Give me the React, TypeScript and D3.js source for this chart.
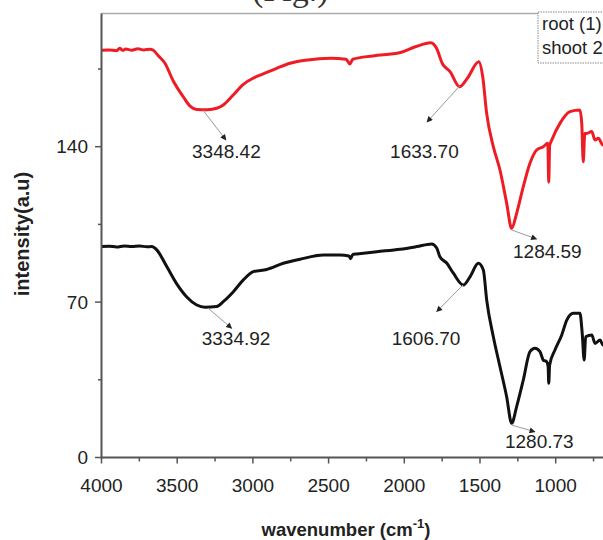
import React from 'react';
import * as d3 from 'd3';

// ---- data ----
const redWave = [4000, 3950, 3900, 3880, 3860, 3840, 3800, 3760, 3720, 3680, 3658, 3625, 3581, 3526, 3460, 3415, 3371, 3300, 3239, 3196, 3130, 3063, 2997, 2931, 2843, 2755, 2638, 2486, 2385, 2360, 2340, 2207, 2026, 1927, 1825, 1787, 1749, 1698, 1635, 1584, 1508, 1482, 1456, 1412, 1368, 1324, 1291, 1258, 1214, 1170, 1126, 1082, 1052, 1046, 1040, 1026, 972, 906, 840, 828, 818, 808, 795, 762, 740, 719, 688, 650, 600];
const redValue = [183.5, 183.6, 183.2, 184.3, 183.4, 184.0, 183.5, 184.1, 183.6, 183.9, 183.4, 181, 177.6, 169.6, 162.5, 158.3, 156.8, 156.7, 157.3, 158.8, 163.3, 168.1, 170.9, 172.8, 175.3, 177.6, 179.1, 179.8, 179.4, 177.3, 179.4, 180.9, 182.4, 185, 186.8, 184.3, 177.5, 173.8, 167, 170.8, 178.3, 171.5, 155, 140, 129.5, 114.6, 103.2, 110, 122, 132.5, 138.5, 140, 141.5, 124, 140.5, 143, 150.5, 155.8, 156.5, 150.5, 133.2, 146, 146, 146.8, 143, 143.8, 140.8, 141, 140];

const blackWave = [4000, 3950, 3900, 3850, 3800, 3750, 3700, 3668, 3635, 3569, 3503, 3437, 3371, 3316, 3239, 3196, 3129, 3063, 2997, 2909, 2799, 2689, 2535, 2425, 2365, 2355, 2340, 2314, 2182, 2028, 1918, 1819, 1786, 1764, 1720, 1676, 1610, 1566, 1511, 1478, 1456, 1412, 1368, 1324, 1291, 1258, 1214, 1170, 1137, 1104, 1082, 1060, 1050, 1046, 1040, 1005, 960, 927, 884, 840, 825, 812, 802, 762, 740, 707, 688, 650, 600];
const blackValue = [95, 95.2, 94.8, 95.3, 95, 95.3, 94.9, 95, 93.5, 86, 78.2, 72.3, 68.7, 67.7, 68, 70.2, 74.7, 80, 83.7, 84.7, 87.5, 89.3, 91.2, 91.2, 90.8, 89.5, 91.5, 91.7, 92.7, 93.8, 95, 96.2, 94.4, 90.3, 87.6, 83, 77.7, 81.4, 87.5, 84.5, 71, 54.4, 40.9, 27.4, 15.4, 22.9, 34.9, 47.7, 49.2, 47.7, 43.9, 43.2, 41, 33.4, 41.7, 48.4, 55.2, 61.9, 65, 65, 56, 43.9, 54.4, 55.2, 51.4, 52.9, 50.7, 51, 50];

const xMajorTicks = [4000, 3500, 3000, 2500, 2000, 1500, 1000];
const xMinorTicks = [3750, 3250, 2750, 2250, 1750, 1250, 750];
const yMajorTicks = [0, 70, 140];
const yMinorTicks = [35, 105, 175];
const legendLabels = ['root (1)', 'shoot 2'];

// annotations: label, curve point, arrow head, text anchor (data space)
const annLabels = ['3348.42', '1633.70', '1284.59', '3334.92', '1606.70', '1280.73'];
const annStartW = [3330, 1635, 1291, 3297, 1612, 1291];
const annStartV = [156.5, 167.3, 102.5, 67.3, 77.7, 14.6];
const annHeadW = [3178, 1850, 1126, 3140, 1786, 1137];
const annHeadV = [143, 151.1, 98.4, 58.2, 65.7, 11.6];
const annTextW = [3402, 2094, 1282, 3338, 2083, 1335];
const annTextV = [134.9, 134.9, 89.9, 50.7, 50.7, 4.1];

const W = 603;
const H = 540;

export default function App() {
  const x = d3.scaleLinear().domain([4000, 400]).range([101.5, 101.5 + 3600 * 0.1514]);
  const y = d3.scaleLinear().domain([0, 200]).range([457.5, 13.5]);
  const line = d3
    .line<[number, number]>()
    .x((d) => x(d[0]))
    .y((d) => y(d[1]))
    .curve(d3.curveMonotoneX);
  const redPts = redWave.map((w, i) => [w, redValue[i]] as [number, number]);
  const blackPts = blackWave.map((w, i) => [w, blackValue[i]] as [number, number]);
  const font = '"Liberation Sans", Arial, sans-serif';
  const x0 = x(4000);
  const y0 = y(0);
  const yTop = y(200);

  return (
    <div style={{ position: 'fixed', left: 0, top: 0 }}>
      <svg width={W} height={H} style={{ display: 'block', background: '#fff' }}>
        <defs>
          <clipPath id="plot">
            <rect x={x0} y={yTop} width={W - x0} height={y0 - yTop} />
          </clipPath>
          <marker id="ah" viewBox="0 0 10 10" refX="9" refY="5" markerWidth="7" markerHeight="6" orient="auto">
            <path d="M0,0 L10,5 L0,10 z" fill="#222" />
          </marker>
        </defs>
        {/* cut caption at top */}
        <text x={252} y={1} fontFamily='"Liberation Serif", "Times New Roman", serif' fontSize={34} fill="#333">
          (Fig.)
        </text>
        {/* frame top */}
        <line x1={x0} x2={W} y1={yTop} y2={yTop} stroke="#aaa" strokeWidth={1.5} />
        {/* curves */}
        <g clipPath="url(#plot)">
          <path d={line(redPts) || ''} fill="none" stroke="#ee1c24" strokeWidth={3} strokeLinejoin="round" />
          <path d={line(blackPts) || ''} fill="none" stroke="#111" strokeWidth={3} strokeLinejoin="round" />
        </g>
        {/* annotations */}
        {annLabels.map((lab, i) => (
          <g key={lab}>
            <line
              x1={x(annStartW[i])}
              y1={y(annStartV[i])}
              x2={x(annHeadW[i])}
              y2={y(annHeadV[i])}
              stroke="#9a9a9a"
              strokeWidth={1}
              markerEnd="url(#ah)"
            />
            <text x={x(annTextW[i])} y={y(annTextV[i])} fontFamily={font} fontSize={19} fill="#222">
              {lab}
            </text>
          </g>
        ))}
        {/* axes */}
        <line x1={x0} x2={x0} y1={yTop} y2={y0 + 1} stroke="#555" strokeWidth={2} />
        <line x1={x0} x2={W} y1={y0} y2={y0} stroke="#555" strokeWidth={2} />
        {xMajorTicks.map((t) => (
          <g key={'xm' + t}>
            <line x1={x(t)} x2={x(t)} y1={y0} y2={y0 + 6} stroke="#555" strokeWidth={1.5} />
            <text x={x(t)} y={492} textAnchor="middle" fontFamily={font} fontSize={19} fill="#222">
              {t}
            </text>
          </g>
        ))}
        {xMinorTicks.map((t) => (
          <line key={'xn' + t} x1={x(t)} x2={x(t)} y1={y0} y2={y0 + 4} stroke="#555" strokeWidth={1.5} />
        ))}
        {yMajorTicks.map((t) => (
          <g key={'ym' + t}>
            <line x1={x0 - 6.5} x2={x0} y1={y(t)} y2={y(t)} stroke="#555" strokeWidth={1.5} />
            <text x={88} y={y(t)} dy="0.35em" textAnchor="end" fontFamily={font} fontSize={19} fill="#222">
              {t}
            </text>
          </g>
        ))}
        {yMinorTicks.map((t) => (
          <line key={'yn' + t} x1={x0 - 3.5} x2={x0} y1={y(t)} y2={y(t)} stroke="#555" strokeWidth={1.5} />
        ))}
        {/* axis titles */}
        <text
          transform={`translate(29, ${234}) rotate(-90)`}
          textAnchor="middle"
          fontFamily={font}
          fontWeight="bold"
          fontSize={20}
          fill="#222"
        >
          intensity(a.u)
        </text>
        <text x={346} y={536} textAnchor="middle" fontFamily={font} fontWeight="bold" fontSize={18.5} fill="#222">
          wavenumber (cm
          <tspan dy={-8} fontSize={13}>
            -1
          </tspan>
          <tspan dy={8}>)</tspan>
        </text>
        {/* legend */}
        <rect x={538} y={12} width={80} height={51} fill="#fff" stroke="#888" strokeWidth={1} strokeDasharray="1.5,1" />
        {legendLabels.map((l, i) => (
          <text key={l} x={542} y={30 + i * 23.5} fontFamily={font} fontSize={18.5} fill="#222">
            {l}
          </text>
        ))}
      </svg>
    </div>
  );
}
